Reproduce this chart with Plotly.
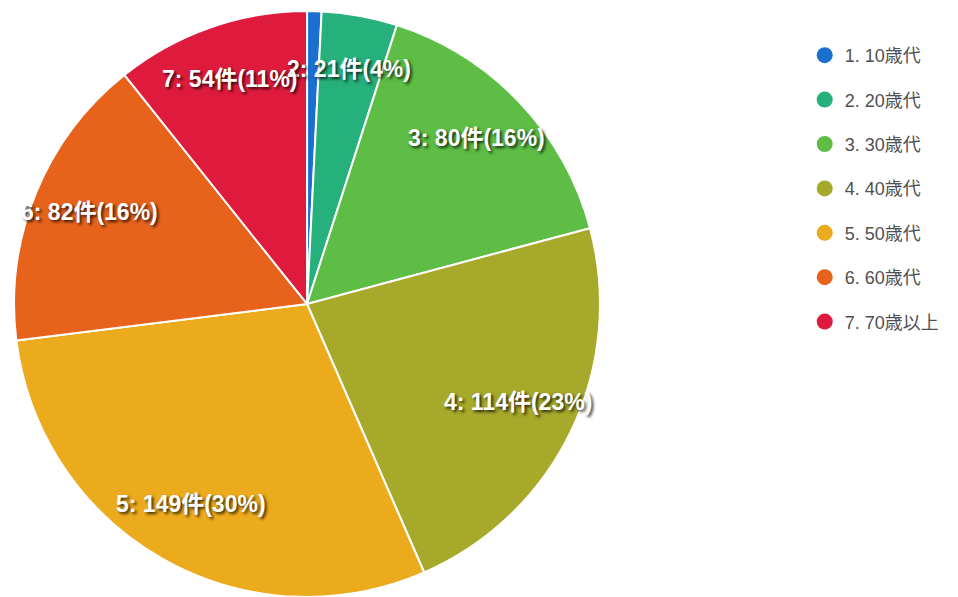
import math
import plotly.graph_objects as go

legend_labels = ["1. 10歳代", "2. 20歳代", "3. 30歳代", "4. 40歳代", "5. 50歳代", "6. 60歳代", "7. 70歳以上"]
slice_ids = ["1", "2", "3", "4", "5", "6", "7"]
counts = [4, 21, 80, 114, 149, 82, 54]
colors = ["#1b6fd0", "#26b07b", "#5dbd45", "#a7a92b", "#ecaa1d", "#e7631c", "#df1b3d"]

W, H = 958, 597
# pie geometry in paper fractions
dom_x = [0.0147, 0.6263]
dom_y = [0.0, 0.9816]

fig = go.Figure()
fig.add_trace(go.Pie(
    values=counts,
    labels=legend_labels,
    sort=False,
    direction="clockwise",
    rotation=0,
    marker=dict(colors=colors, line=dict(color="white", width=2)),
    textinfo="none",
    hoverinfo="label+value+percent",
    showlegend=False,
    domain=dict(x=dom_x, y=dom_y),
))

# labels positioned from data (cumulative angles)
total = sum(counts)
cx = (dom_x[0] + dom_x[1]) / 2 * W
cy = (dom_y[0] + dom_y[1]) / 2 * H
R = min((dom_x[1] - dom_x[0]) * W, (dom_y[1] - dom_y[0]) * H) / 2
cum = 0
for sid, c in zip(slice_ids, counts):
    mid = (cum + c / 2) / total * 2 * math.pi
    cum += c
    pct = round(c / total * 100)
    if pct < 2:
        continue
    r = 0.8 * R
    px = cx + r * math.sin(mid)
    py = cy + r * math.cos(mid)
    fig.add_annotation(
        x=px / W, y=py / H, xref="paper", yref="paper",
        text=f"{sid}: {c}件({pct}%)", showarrow=False,
        xanchor="center", yanchor="middle", yshift=4,
        font=dict(family="Liberation Sans, Noto Sans CJK JP", size=23, color="white",
                  weight="bold", shadow="2px 2px 3px rgba(0,0,0,0.75)"),
    )

for lab, col in zip(legend_labels, colors):
    fig.add_trace(go.Scatter(
        x=[None], y=[None], mode="markers", name=lab, legendgroup=lab,
        marker=dict(symbol="circle", size=16, color=col),
    ))

fig.update_layout(
    width=W, height=H,
    margin=dict(l=0, r=0, t=0, b=0),
    paper_bgcolor="white", plot_bgcolor="white",
    xaxis=dict(visible=False), yaxis=dict(visible=False),
    legend=dict(
        x=0.840, y=0.938, xanchor="left", yanchor="top",
        font=dict(family="Liberation Sans, Noto Sans CJK JP", size=18, color="#505050"),
        tracegroupgap=18, itemwidth=30,
        bgcolor="rgba(0,0,0,0)",
    ),
)
fig.write_html("out.html", config={"displayModeBar": False},
               post_script="document.body.style.margin='0';document.body.style.overflow='hidden';")
